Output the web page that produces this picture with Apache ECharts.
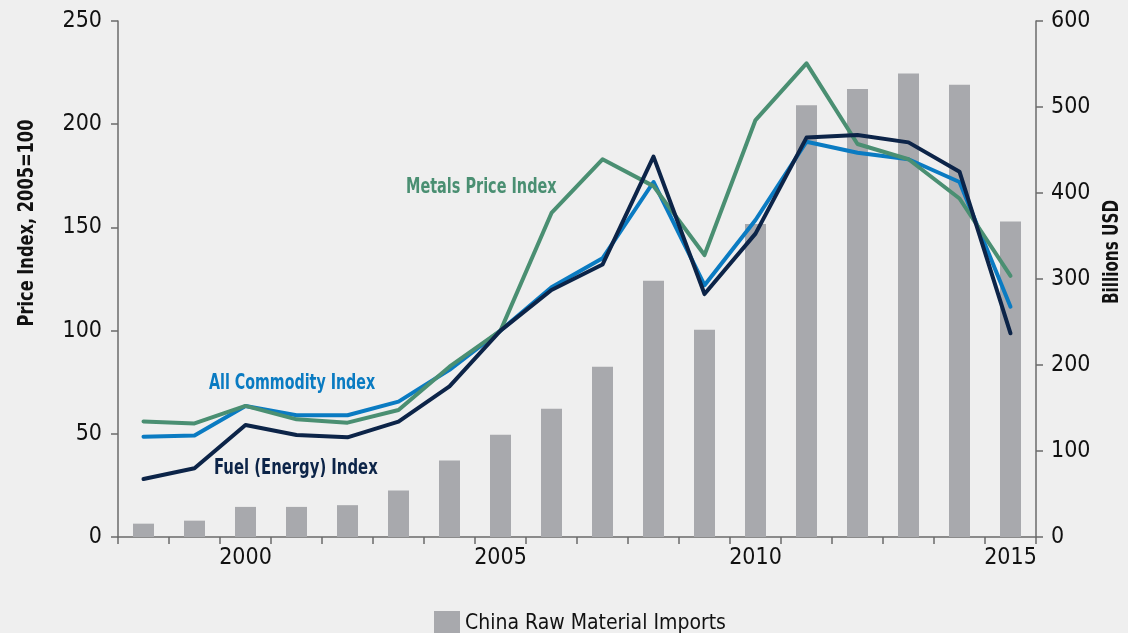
<!DOCTYPE html>
<html><head><meta charset="utf-8">
<script src="https://cdn.jsdelivr.net/npm/echarts@6/dist/echarts.min.js"></script>
<style>html,body{margin:0;padding:0;background:#efefef;}#c{width:1128px;height:633px;}</style>
</head><body><div id="c"></div>
<script>
const years = ['1998','1999','2000','2001','2002','2003','2004','2005','2006','2007','2008','2009','2010','2011','2012','2013','2014','2015'];
const labeledYears = ['2000','2005','2010','2015'];
const imports = [15.5, 19, 35, 35, 37, 54, 89, 119, 149, 198, 298, 241, 364, 502, 521, 539, 526, 367];
const metals = [56, 55, 63.5, 57, 55.4, 61.5, 82.5, 100, 157, 183, 170, 136.6, 202, 229.5, 190.4, 183, 164, 126.5];
const allCommodity = [48.6, 49.2, 63.5, 59, 59, 65.6, 81, 100, 121, 135, 172, 122, 153.6, 191.5, 186.2, 183, 172, 111.6];
const fuel = [28.1, 33.3, 54.3, 49.4, 48.3, 55.9, 73, 100, 119.7, 132, 184.3, 117.7, 147, 193.5, 194.8, 191.2, 177, 98.7];
const leftTicks = [0, 250, 50];
const rightTicks = [0, 600, 100];

const FONT = '"Liberation Sans Narrow","DejaVu Sans Condensed",sans-serif';
const chart = echarts.init(document.getElementById('c'), null, {renderer:'canvas'});
const axisLineStyle = {color:'#6b6b6b', width:1.5};
chart.setOption({
  backgroundColor:'#efefef',
  animation:false,
  textStyle:{fontFamily:FONT},
  grid:{left:118, right:92, top:21, bottom:96, containLabel:false},
  legend:{
    data:['China Raw Material Imports'],
    left:429, top:606, itemWidth:26, itemHeight:26, itemGap:10,
    icon:'rect',
    textStyle:{fontFamily:FONT, fontSize:21, color:'#111'}
  },
  xAxis:{
    type:'category', data:years, boundaryGap:true,
    axisLine:{lineStyle:axisLineStyle},
    axisTick:{show:true, interval:0, length:7, lineStyle:axisLineStyle},
    axisLabel:{interval:0, margin:10, fontSize:23, color:'#111', fontFamily:FONT,
      formatter:function(v){return labeledYears.indexOf(v)>=0? v : '';}},
    splitLine:{show:false}
  },
  yAxis:[
    {type:'value', min:leftTicks[0], max:leftTicks[1], interval:leftTicks[2], position:'left',
     axisLine:{show:true, lineStyle:axisLineStyle},
     axisTick:{show:true, length:7, lineStyle:axisLineStyle},
     axisLabel:{fontSize:23, color:'#111', margin:16, fontFamily:FONT},
     splitLine:{show:false}},
    {type:'value', min:rightTicks[0], max:rightTicks[1], interval:rightTicks[2], position:'right',
     axisLine:{show:true, lineStyle:axisLineStyle},
     axisTick:{show:true, length:7, lineStyle:axisLineStyle},
     axisLabel:{fontSize:23, color:'#111', margin:15, fontFamily:FONT},
     splitLine:{show:false}}
  ],
  graphic:[
    {type:'text', x:27, y:223, rotation:Math.PI/2, scaleX:0.82,
     style:{text:'Price Index, 2005=100', font:'bold 22px '+FONT, fill:'#111', textAlign:'center', textVerticalAlign:'middle'}},
    {type:'text', x:1112, y:252, rotation:Math.PI/2, scaleX:0.77,
     style:{text:'Billions USD', font:'bold 22px '+FONT, fill:'#111', textAlign:'center', textVerticalAlign:'middle'}},
    {type:'text', x:406, y:187, scaleX:0.73,
     style:{text:'Metals Price Index', font:'bold 22px '+FONT, fill:'#4a8f72', textAlign:'left', textVerticalAlign:'middle'}},
    {type:'text', x:209, y:383, scaleX:0.72,
     style:{text:'All Commodity Index', font:'bold 22px '+FONT, fill:'#0a7bc2', textAlign:'left', textVerticalAlign:'middle'}},
    {type:'text', x:214, y:468, scaleX:0.75,
     style:{text:'Fuel (Energy) Index', font:'bold 22px '+FONT, fill:'#0c2448', textAlign:'left', textVerticalAlign:'middle'}}
  ],
  series:[
    {name:'China Raw Material Imports', type:'bar', yAxisIndex:1, data:imports, barWidth:21,
     itemStyle:{color:'#a8a9ad'}, z:1},
    {name:'All Commodity Index', type:'line', yAxisIndex:0, data:allCommodity, symbol:'none',
     lineStyle:{color:'#0a7bc2', width:4, cap:'round', join:'round'}, z:3},
    {name:'Metals Price Index', type:'line', yAxisIndex:0, data:metals, symbol:'none',
     lineStyle:{color:'#4a8f72', width:4, cap:'round', join:'round'}, z:4},
    {name:'Fuel (Energy) Index', type:'line', yAxisIndex:0, data:fuel, symbol:'none',
     lineStyle:{color:'#0c2448', width:4, cap:'round', join:'round'}, z:5}
  ]
});
</script></body></html>
